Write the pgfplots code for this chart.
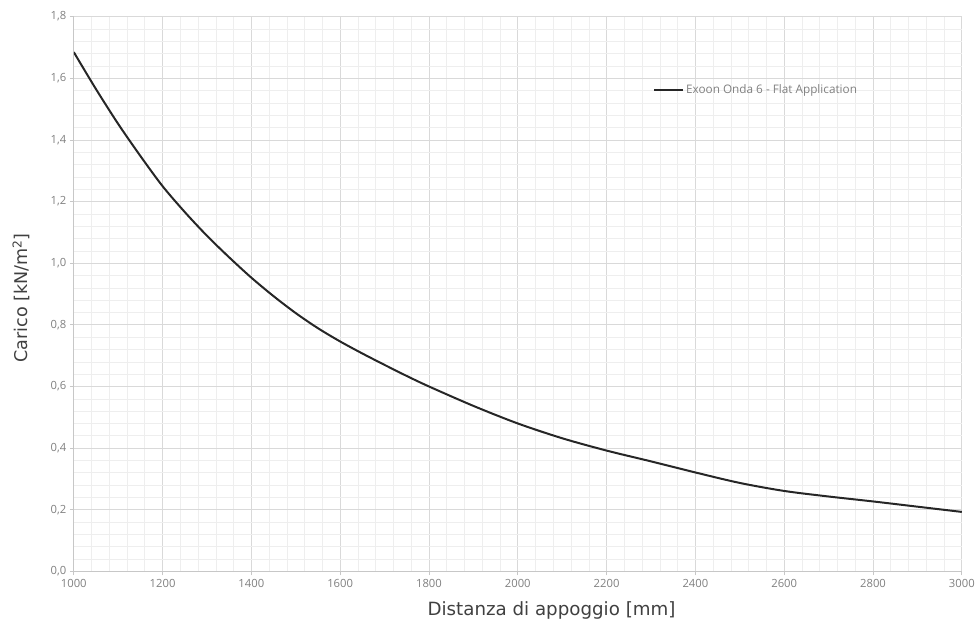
\documentclass[border=0pt]{standalone}
\usepackage{pgfplots}
\pgfplotsset{compat=1.18}
\usepackage{fontspec}
\setmainfont{Open Sans}
\newfontfamily\labelfont{DejaVu Sans}
\definecolor{majgrid}{HTML}{D9D9D9}
\definecolor{mingrid}{HTML}{EEEEEE}
\definecolor{ticktext}{HTML}{808080}
\definecolor{curve}{HTML}{262626}
\begin{document}
\begin{tikzpicture}
\begin{axis}[
  scale only axis,
  width=891pt, height=556.6pt,
  xmin=1000, xmax=3000,
  ymin=0, ymax=1.8,
  xtick={1000,1200,...,3000},
  ytick={0,0.2,...,1.8},
  minor x tick num=4,
  minor y tick num=4,
  grid=both,
  major grid style={majgrid, line width=0.8pt},
  minor grid style={mingrid, line width=0.6pt},
  axis lines*=left,
  axis line style={majgrid!80!gray, line width=0.9pt, -},
  tick align=outside,
  major tick length=4pt,
  minor tick length=0pt,
  tick style={majgrid!80!gray, line width=0.8pt},
  xticklabel style={/pgf/number format/.cd, 1000 sep={}, /tikz/.cd, font=\fontsize{11.3}{13}\selectfont, text=ticktext},
  yticklabel style={/pgf/number format/.cd, fixed, fixed zerofill, precision=1, use comma, /tikz/.cd, font=\fontsize{11.3}{13}\selectfont, text=ticktext},
  /pgf/number format/assume math mode=true,
  xlabel={Distanza di appoggio [mm]},
  ylabel={Carico [kN/m\textsuperscript{2}]},
  every axis x label/.style={at={(axis description cs:0.538,-0.0798)}, anchor=base},
  every axis y label/.style={at={(axis description cs:-0.059,0.493)}, rotate=90, anchor=center},
  xlabel style={font=\labelfont\fontsize{18.3}{21}\selectfont, text=black!75},
  ylabel style={font=\labelfont\fontsize{17.6}{21}\selectfont, text=black!75},
  legend style={at={(0.6525,0.868)}, anchor=west, draw=none, fill=none,
    inner sep=0pt, font=\fontsize{11.8}{14}\selectfont, text=ticktext},
  legend image code/.code={\draw[#1] (0pt,0pt) -- (29pt,0pt);},
  legend image post style={line width=1.8pt},
]
\addplot[curve, line width=2pt, smooth] coordinates {
(1000,1.685) (1050,1.565) (1100,1.452) (1150,1.348) (1200,1.250)
(1250,1.166) (1300,1.089) (1350,1.019) (1400,0.953) (1450,0.893)
(1500,0.838) (1550,0.789) (1600,0.746) (1650,0.707) (1700,0.670)
(1750,0.634) (1800,0.600) (1900,0.537) (2000,0.480) (2100,0.432)
(2200,0.392) (2300,0.357) (2400,0.321) (2500,0.287) (2600,0.261)
(2700,0.243) (2800,0.227) (2900,0.210) (3000,0.193)
};
\addlegendentry{Exoon Onda 6 - Flat Application}
\end{axis}
\path (current axis.south west) ++(-74pt,-51.7pt) coordinate (bl);
\path (current axis.north east) ++(13pt,16.7pt) coordinate (tr);
\path (bl) rectangle (tr);
\end{tikzpicture}
\end{document}
